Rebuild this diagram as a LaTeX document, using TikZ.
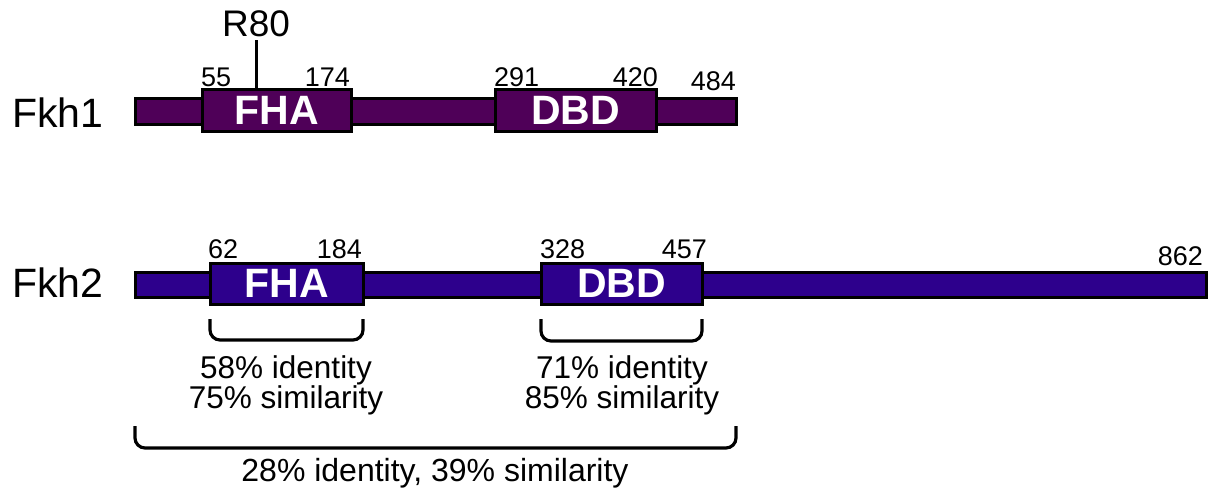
\documentclass[tikz,border=0pt]{standalone}
\usepackage{fontspec}
\setmainfont{Liberation Sans}
\definecolor{fkhone}{HTML}{4F0058}
\definecolor{fkhtwo}{HTML}{2D008C}
\begin{document}
\begin{tikzpicture}[x=1pt,y=-1pt,
  protbar/.style={draw=black,line width=3pt,anchor=north west,inner sep=0pt,outer sep=0pt},
  protdomain/.style={protbar,text=white,font=\fontsize{41}{41}\selectfont\bfseries},
  poslabel/.style={font=\fontsize{27}{27}\selectfont,inner sep=0pt},
  protlabel/.style={font=\fontsize{41}{41}\selectfont,inner sep=0pt},
  notetext/.style={font=\fontsize{31.5}{31.5}\selectfont,inner sep=0pt,align=center},
  bracketline/.style={line width=3.2pt,rounded corners=10pt}]
\useasboundingbox (0,0) rectangle (1214,491);

% Fkh1
\node[protlabel,anchor=base west] (n1) at (12,127) {Fkh1};
\node[protbar,fill=fkhone,minimum width=601pt,minimum height=26pt] (b1) at (135,98) {};
\node[protdomain,fill=fkhone,minimum width=149pt,minimum height=42pt] (f1) at (202,89) {FHA};
\node[protdomain,fill=fkhone,minimum width=161pt,minimum height=42pt] (d1) at (495,89) {DBD};
\node[poslabel,anchor=base west] (p55) at (201,86) {55};
\node[poslabel,anchor=base east] (p174) at (350,86) {174};
\node[poslabel,anchor=base west] (p291) at (494,86) {291};
\node[poslabel,anchor=base east] (p420) at (658,86) {420};
\node[poslabel,anchor=base east] (p484) at (736,90) {484};
\node[font=\fontsize{37}{37}\selectfont,inner sep=0pt,anchor=base] (r80) at (256,36) {R80};
\coordinate (r80top) at (256,40);
\draw[line width=3pt] (r80top) -- (r80top |- f1.north);

% Fkh2
\node[protlabel,anchor=base west] (n2) at (12,297) {Fkh2};
\node[protbar,fill=fkhtwo,minimum width=1071pt,minimum height=25pt] (b2) at (135,272) {};
\node[protdomain,fill=fkhtwo,minimum width=153pt,minimum height=41pt] (f2) at (210,263) {FHA};
\node[protdomain,fill=fkhtwo,minimum width=161pt,minimum height=41pt] (d2) at (541,263) {DBD};
\node[poslabel,anchor=base west] (p62) at (208,258) {62};
\node[poslabel,anchor=base east] (p184) at (362,258) {184};
\node[poslabel,anchor=base west] (p328) at (540,258) {328};
\node[poslabel,anchor=base east] (p457) at (707,258) {457};
\node[poslabel,anchor=base east] (p862) at (1203,265) {862};

% similarity brackets
\draw[bracketline] (f2.south west |- 0,319) -- (f2.south west |- 0,340) -- (f2.south east |- 0,340) -- (f2.south east |- 0,319);
\draw[bracketline] (d2.south west |- 0,319) -- (d2.south west |- 0,341) -- (d2.south east |- 0,341) -- (d2.south east |- 0,319);
\draw[bracketline] (b1.west |- 0,426) -- (b1.west |- 0,448) -- (b1.east |- 0,448) -- (b1.east |- 0,426);
\node[notetext,anchor=base] (s1) at (286,378) {58\% identity};
\node[notetext,anchor=base] (s1b) at (286,408) {75\% similarity};
\node[notetext,anchor=base] (s2) at (622,378) {71\% identity};
\node[notetext,anchor=base] (s2b) at (622,408) {85\% similarity};
\node[notetext,anchor=base,font=\fontsize{32}{32}\selectfont] (s3) at (435,481) {28\% identity, 39\% similarity};
\end{tikzpicture}
\end{document}
